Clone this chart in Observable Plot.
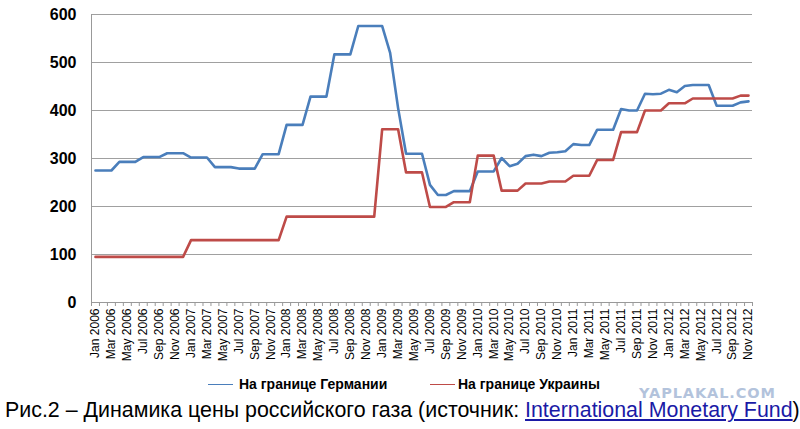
<!DOCTYPE html>
<html>
<head>
<meta charset="utf-8">
<script src="https://cdn.jsdelivr.net/npm/d3@7"></script>
<script src="https://cdn.jsdelivr.net/npm/@observablehq/plot@0.6"></script>
<style>
  html, body { margin: 0; padding: 0; background: #fff; }
  #wrap { position: relative; width: 800px; height: 429px; overflow: hidden; font-family: "Liberation Sans", Arial, sans-serif; }
  #chart { position: absolute; left: 0; top: 0; }
  .leg { position: absolute; top: 375px; height: 18px; display: flex; align-items: center; font-weight: bold; font-size: 14px; color: #000; }
  .leg span.sw { display: inline-block; width: 25px; height: 0; border-top: 1.5px solid; margin-right: 6px; }
  #wm { position: absolute; left: 639px; top: 385.5px; line-height: 1; font-family: "DejaVu Sans", Verdana, sans-serif; font-weight: bold; font-size: 14.5px; color: #b3c3dc; letter-spacing: 0.9px; }
  #cap { position: absolute; left: 5px; top: 400px; line-height: 1; font-size: 21.4px; color: #000; white-space: nowrap; }
  #cap a { color: #1a1aa6; text-decoration: underline; }
</style>
</head>
<body>
<div id="wrap">
  <div id="chart"></div>
  <div class="leg" style="left:208px"><span class="sw" style="border-color:#4A7EBB"></span>На границе Германии</div>
  <div class="leg" style="left:430px"><span class="sw" style="border-color:#BE4B48;margin-right:3px"></span>На границе Украины</div>
  <div id="wm">YAPLAKAL.COM</div>
  <div id="cap">Рис.2 – Динамика цены российского газа (источник: <a>International Monetary Fund</a>)</div>
</div>
<script>
const months = [
  "Jan 2006","Feb 2006","Mar 2006","Apr 2006","May 2006","Jun 2006","Jul 2006","Aug 2006","Sep 2006","Oct 2006","Nov 2006","Dec 2006",
  "Jan 2007","Feb 2007","Mar 2007","Apr 2007","May 2007","Jun 2007","Jul 2007","Aug 2007","Sep 2007","Oct 2007","Nov 2007","Dec 2007",
  "Jan 2008","Feb 2008","Mar 2008","Apr 2008","May 2008","Jun 2008","Jul 2008","Aug 2008","Sep 2008","Oct 2008","Nov 2008","Dec 2008",
  "Jan 2009","Feb 2009","Mar 2009","Apr 2009","May 2009","Jun 2009","Jul 2009","Aug 2009","Sep 2009","Oct 2009","Nov 2009","Dec 2009",
  "Jan 2010","Feb 2010","Mar 2010","Apr 2010","May 2010","Jun 2010","Jul 2010","Aug 2010","Sep 2010","Oct 2010","Nov 2010","Dec 2010",
  "Jan 2011","Feb 2011","Mar 2011","Apr 2011","May 2011","Jun 2011","Jul 2011","Aug 2011","Sep 2011","Oct 2011","Nov 2011","Dec 2011",
  "Jan 2012","Feb 2012","Mar 2012","Apr 2012","May 2012","Jun 2012","Jul 2012","Aug 2012","Sep 2012","Oct 2012","Nov 2012"
];
const germany = [
  275,275,275,293,293,293,303,303,303,311,311,311,
  302,302,302,282,282,282,279,279,279,309,309,309,
  370,370,370,429,429,429,517,517,517,576,576,576,
  576,520,405,310,310,310,245,224,224,232,232,232,
  273,273,273,301,284,289,305,308,305,312,313,315,
  330,328,328,360,360,360,403,400,400,435,434,435,
  443,438,451,453,453,453,410,410,410,417,419
];
const ukraine = [
  95,95,95,95,95,95,95,95,95,95,95,95,
  130,130,130,130,130,130,130,130,130,130,130,130,
  179,179,179,179,179,179,179,179,179,179,179,179,
  361,361,361,271,271,271,199,199,199,209,209,209,
  306,306,306,233,233,233,248,248,248,252,252,252,
  264,264,264,297,297,297,355,355,355,400,400,400,
  415,415,415,425,425,425,425,425,425,431,431
];
const yTicks = [0,100,200,300,400,500,600];

const rowsG = months.map((m, i) => ({i, month: m, value: germany[i]}));
const rowsU = months.map((m, i) => ({i, month: m, value: ukraine[i]}));
const labelTicks = months.map((m, i) => i).filter(i => i % 2 === 0);
const boundaries = d3.range(months.length + 1).map(i => i - 0.5);

const W = 800, H = 376;
const chart = Plot.plot({
  width: W,
  height: H,
  marginTop: 14,
  marginBottom: H - 302,
  marginLeft: 91,
  marginRight: 800 - 752,
  style: {fontFamily: "'Liberation Sans', Arial, sans-serif", background: "#fff", color: "#000"},
  x: {type: "linear", domain: [-0.5, months.length - 0.5]},
  y: {domain: [0, 600]},
  marks: [
    Plot.gridY(yTicks.filter(v => v > 0), {stroke: "#a0a0a0", strokeOpacity: 1, strokeWidth: 1}),
    Plot.ruleY([0], {stroke: "#999"}),
    Plot.ruleX([-0.5], {stroke: "#999"}),
    Plot.axisY({ticks: yTicks, tickSize: 0, tickPadding: 15, fontSize: 16, fontWeight: "bold", label: null}),
    Plot.axisX({ticks: boundaries, tickSize: 4, stroke: "#999", tickFormat: () => "", label: null}),
    Plot.axisX({ticks: labelTicks, tickSize: 0, tickPadding: 6, tickRotate: -90, fontSize: 12, tickFormat: i => months[i], label: null}),
    Plot.lineY(rowsG, {x: "i", y: "value", stroke: "#4A7EBB", strokeWidth: 2.6}),
    Plot.lineY(rowsU, {x: "i", y: "value", stroke: "#BE4B48", strokeWidth: 2.6})
  ]
});
document.getElementById("chart").appendChild(chart);
</script>
</body>
</html>
